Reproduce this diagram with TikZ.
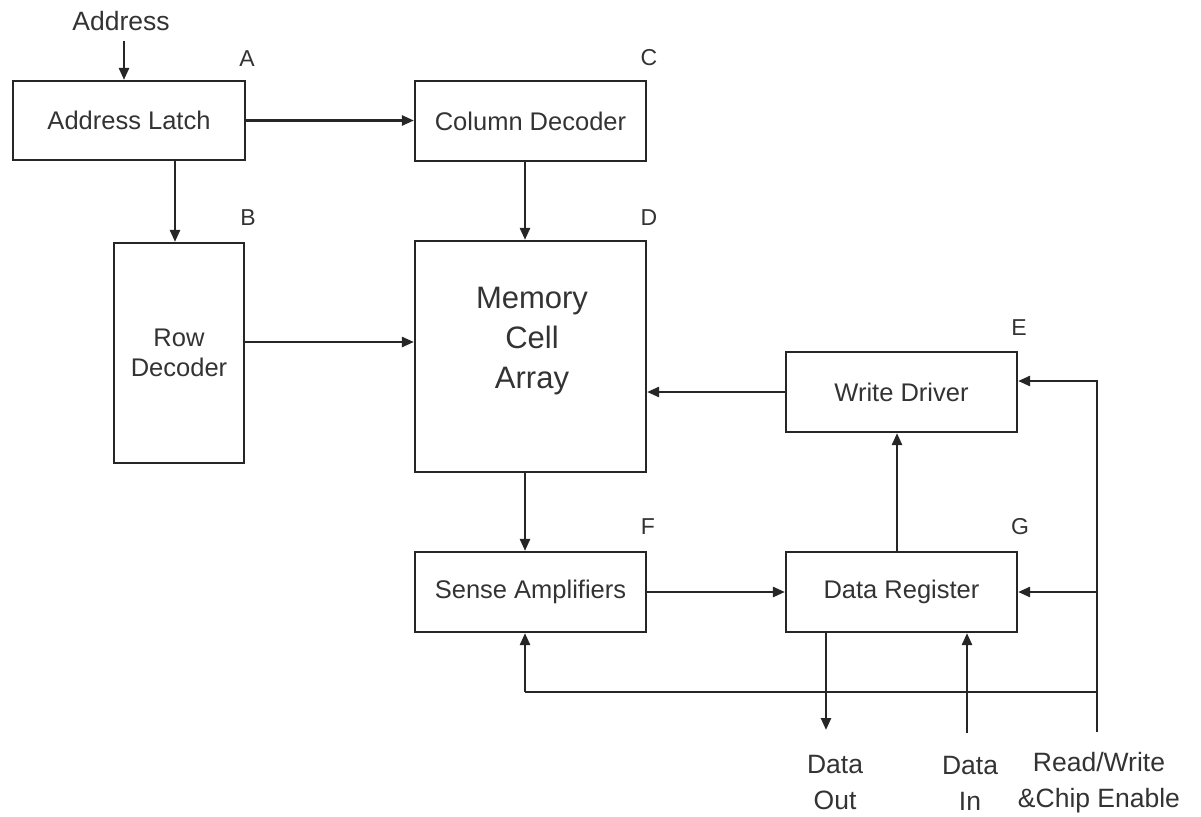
\documentclass[tikz,border=0pt]{standalone}
\usepackage{fontspec}
\setmainfont{Liberation Sans}
\usetikzlibrary{arrows.meta}
\begin{document}
\begin{tikzpicture}[x=1pt,y=-1pt,
  line width=2.5pt, draw=black!85, text=black!80,
  blk/.style={draw, rectangle, inner sep=0pt, line width=2.2pt,
    font=\fontsize{25.5}{30}\selectfont, align=center},
  tag/.style={font=\fontsize{23}{26}\selectfont, inner sep=0pt},
  io/.style={font=\fontsize{26.5}{36}\selectfont, align=center, inner sep=0pt},
  arr/.style={-{Triangle[length=12pt,width=10pt]}},
  bus/.style={line width=1.6pt}]
\useasboundingbox (0,0) rectangle (1201,816);

% blocks
\node[blk, minimum width=232pt, minimum height=79pt] (latch) at (129,120.5) {Address Latch};
\node[blk, minimum width=231pt, minimum height=80pt] (col) at (530.5,121) {Column Decoder};
\node[blk, minimum width=130pt, minimum height=220pt] (row) at (179,353) {Row\\Decoder};
\node[blk, minimum width=231pt, minimum height=231pt] (mem) at (530.5,356.5) {};
\node[font=\fontsize{31}{40}\selectfont, align=center] (memtxt) at (532,341) {Memory\\Cell\\Array};
\node[blk, minimum width=231pt, minimum height=80pt] (wd) at (901.5,392) {Write Driver};
\node[blk, minimum width=231pt, minimum height=80pt] (sa) at (530.5,592) {Sense Amplifiers};
\node[blk, minimum width=231pt, minimum height=80pt] (dr) at (901.5,592) {Data Register};

% block letters
\node[tag] (tA) at (247,59) {A};
\node[tag] (tB) at (248,218) {B};
\node[tag] (tC) at (649,58) {C};
\node[tag] (tD) at (649,218) {D};
\node[tag] (tE) at (1019,328) {E};
\node[tag] (tF) at (648,527) {F};
\node[tag] (tG) at (1020,527) {G};

% external signals
\node[io] (addr) at (121,21) {Address};
\node[io] (dout) at (835,783) {Data\\Out};
\node[io] (din) at (970,783) {Data\\In};
\node[io] (rw) at (1099,783) {Read/Write\\\&Chip Enable};

% reference positions for the wiring
\coordinate (a0) at (124,41);
\coordinate (xr) at (175,0);
\coordinate (xm) at (525,0);
\coordinate (ym) at (0,342);
\coordinate (xw) at (897,0);
\coordinate (xo) at (826,730);
\coordinate (xi) at (967,733);
\coordinate (rwb) at (1097,732);
\coordinate (rwt) at (1097,381);
\coordinate (rwd) at (1097,592);
\coordinate (rws) at (1097,692);

% connectors
\draw[arr] (a0) -- (a0 |- latch.north);
\draw[arr] (latch.east) -- (latch.east -| col.west);
\draw[arr] (latch.south -| xr) -- (row.north -| xr);
\draw[arr] (col.south -| xm) -- (mem.north -| xm);
\draw[arr] (row.east |- ym) -- (mem.west |- ym);
\draw[arr] (wd.west) -- (wd.west -| mem.east);
\draw[arr] (mem.south -| xm) -- (sa.north -| xm);
\draw[arr] (sa.east) -- (dr.west);
\draw[arr] (dr.north -| xw) -- (wd.south -| xw);
\draw[arr] (dr.south -| xo) -- (xo);
\draw[arr] (xi) -- (dr.south -| xi);
\draw[arr] (rwb) -- (rwt) -- (wd.east |- rwt);
\draw[arr] (rwd) -- (dr.east |- rwd);
\draw[bus] (rws) -- (rws -| xm);
\draw[arr] (rws -| xm) -- (sa.south -| xm);
\end{tikzpicture}
\end{document}
